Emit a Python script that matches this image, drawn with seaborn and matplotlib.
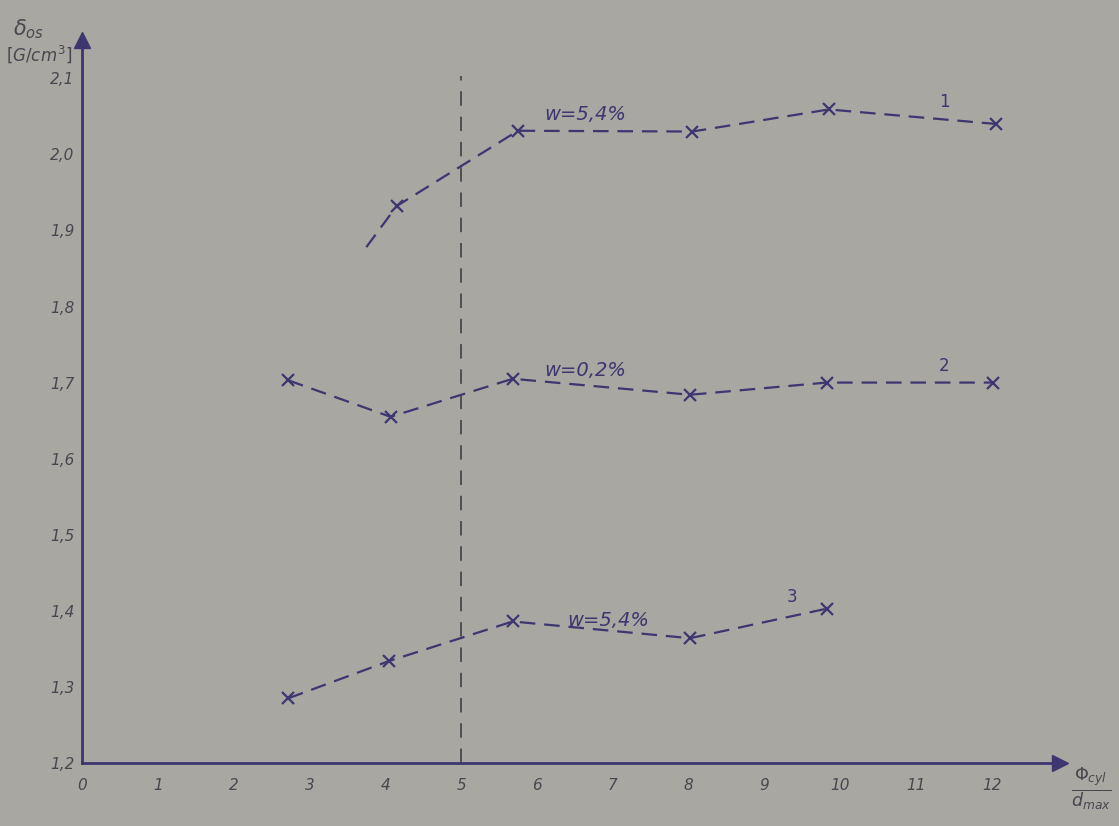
import pandas as pd
import matplotlib.pyplot as plt
import seaborn as sns

# curve 1: w = 5,4 % (first point is the start of the dashed lead-in, no marker)
x1 = [3.75, 4.15, 5.75, 8.05, 9.85, 12.05]
y1 = [1.878, 1.932, 2.031, 2.030, 2.059, 2.040]
# curve 2: w = 0,2 %
x2 = [2.72, 4.07, 5.68, 8.02, 9.82, 12.02]
y2 = [1.703, 1.655, 1.705, 1.684, 1.700, 1.700]
# curve 3: w = 5,4 %
x3 = [2.72, 4.05, 5.68, 8.02, 9.83]
y3 = [1.285, 1.334, 1.386, 1.364, 1.403]

curve_names = ['1', '2', '3']
xticks = list(range(0, 13))
yticks = [1.2, 1.3, 1.4, 1.5, 1.6, 1.7, 1.8, 1.9, 2.0, 2.1]
ytick_labels = ['1,2', '1,3', '1,4', '1,5', '1,6', '1,7', '1,8', '1,9', '2,0', '2,1']

paper = '#a9a7a1'
ink = '#3d3670'
pencil = '#4a4650'

df = pd.DataFrame({
    'x': x1 + x2 + x3,
    'y': y1 + y2 + y3,
    'curve': ['1'] * len(x1) + ['2'] * len(x2) + ['3'] * len(x3),
})

sns.set_style('white')
fig = plt.figure(figsize=(11.19, 8.26), dpi=100, facecolor=paper)
ax = fig.add_axes([0.0733, 0.0763, 0.874, 0.875])
ax.set_facecolor(paper)

for c in curve_names:
    sub = df[df['curve'] == c]
    every = list(range(1, len(sub))) if c == '1' else None
    sns.lineplot(data=sub, x='x', y='y', ax=ax, color=ink, linestyle=(0, (7, 4)),
                 linewidth=1.6, marker='x', markersize=8, markeredgewidth=1.6,
                 markeredgecolor=ink, markevery=every, sort=False, legend=False)

# vertical dashed line at 5
ax.axvline(5, ymin=0, ymax=0.95, color=pencil, linestyle=(0, (8, 6)), linewidth=1.3)

ax.set_xlim(0, 12.9)
ax.set_ylim(1.2, 2.15)
ax.set_xticks(xticks)
ax.set_xticklabels([str(t) for t in xticks])
ax.set_yticks(yticks)
ax.set_yticklabels(ytick_labels)
ax.tick_params(axis='both', which='both', direction='inout', length=5, width=1,
               color=pencil, labelcolor=pencil, labelsize=11)
for lab in ax.get_xticklabels() + ax.get_yticklabels():
    lab.set_fontstyle('italic')
ax.tick_params(axis='x', pad=8)
ax.tick_params(axis='y', pad=3)

for s in ['top', 'right']:
    ax.spines[s].set_visible(False)
for s in ['left', 'bottom']:
    ax.spines[s].set_color(ink)
    ax.spines[s].set_linewidth(2)

# axis arrows
ax.plot(0, 1, marker='^', markersize=11, color=ink, transform=ax.transAxes, clip_on=False)
ax.plot(1, 0, marker='>', markersize=11, color=ink, transform=ax.transAxes, clip_on=False)

ax.set_xlabel('')
ax.set_ylabel('')

# axis titles
fig.text(0.012, 0.965, r'$\delta_{os}$', fontsize=15, color=pencil, ha='left', va='center')
fig.text(0.005, 0.935, r'$[G/cm^3]$', fontsize=12, color=pencil, ha='left', va='center',
         fontstyle='italic')
fig.text(0.975, 0.045, r'$\frac{\Phi_{cyl}}{d_{max}}$', fontsize=18, color=pencil,
         ha='center', va='center')

# curve annotations
ax.text(6.1, 2.045, 'w=5,4%', fontsize=14, color=ink, fontstyle='italic')
ax.text(11.3, 2.062, '1', fontsize=12, color=ink)
ax.text(6.1, 1.708, 'w=0,2%', fontsize=14, color=ink, fontstyle='italic')
ax.text(11.3, 1.715, '2', fontsize=12, color=ink)
ax.text(6.4, 1.380, 'w=5,4%', fontsize=14, color=ink, fontstyle='italic')
ax.text(9.3, 1.412, '3', fontsize=12, color=ink)

fig.savefig('out.png', dpi=100, facecolor=paper)
